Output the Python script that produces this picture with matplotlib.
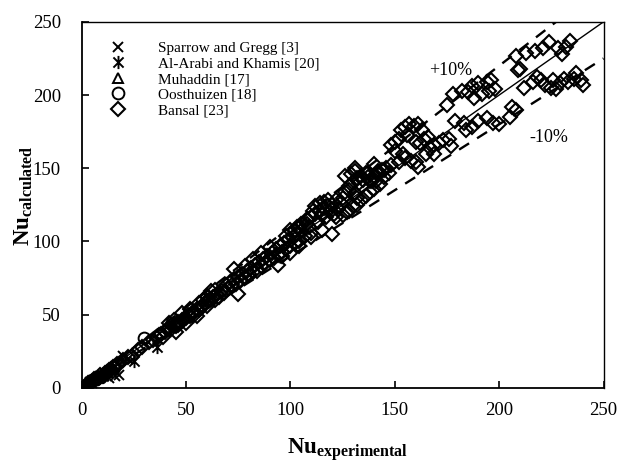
import numpy as np
import matplotlib
matplotlib.use("Agg")
import matplotlib.pyplot as plt
from matplotlib.path import Path

plt.rcParams['font.family'] = ['Liberation Serif', 'DejaVu Serif']
plt.rcParams['mathtext.fontset'] = 'custom'
plt.rcParams['mathtext.rm'] = 'Liberation Serif'
plt.rcParams['mathtext.bf'] = 'Liberation Serif:bold'

# Sparrow and Gregg [3]
sg_x = [1, 2, 4, 5, 7, 9, 11, 13, 15, 16, 18, 20, 22]
sg_y = [2, 1, 4, 3, 6, 8, 10, 7, 13, 8, 9, 22, 20]
# Al-Arabi and Khamis [20]
aa_x = [1, 3, 6, 8, 10, 12, 14, 25, 36]
aa_y = [1, 2, 5, 7, 8, 11, 12, 18, 28]
# Muhaddin [17]
mu_x = [2, 4, 6, 8, 10, 12]
mu_y = [3, 4, 6, 7, 9, 11]
# Oosthuizen [18]
oo_x = [2, 5, 7, 30]
oo_y = [2, 5, 6, 34]
# Bansal [23]
bn_x = [3, 5, 6, 8, 9, 10, 11, 12, 13, 14, 15, 16, 17, 18,
        20, 22, 24, 27, 29, 32, 34, 36, 37, 38, 39, 40, 41, 42, 43, 44, 45, 46,
        47, 48, 49, 50, 51, 52, 53, 54, 55, 56, 57, 58, 59, 60, 61, 62, 63, 64,
        65, 66, 67, 45, 50, 55,
        42, 44, 48, 52, 56, 60, 62, 64, 58, 46, 54, 60, 64,
        68, 69, 70, 71, 72, 73, 74, 75, 76, 77, 78, 79, 80, 81, 82, 83, 84, 85,
        86, 87, 88, 89, 90, 91, 92, 93, 94, 95, 96, 97, 98, 99, 100, 101, 102,
        103, 104, 105, 75, 94, 73,
        98, 100, 103, 105, 108, 112, 114, 116, 118, 122, 125, 90, 86, 82, 78,
        96, 100, 104, 110, 115, 125,
        106, 108, 110, 112, 114, 116, 118, 120, 111, 115, 109, 113, 117, 119,
        121, 123, 124, 107, 110, 120, 122, 104, 102,
        126, 128, 130, 132, 134, 136, 129, 131, 133, 135, 137, 138, 140, 142,
        144, 146, 148, 128, 130, 132, 127, 134, 136, 138, 140, 143, 141, 145,
        147, 126, 131, 137, 139, 131, 132, 128,
        150, 152, 153, 155, 157, 159, 161, 163, 156, 160, 162, 164, 166, 150,
        148, 152, 155, 158, 160, 161, 165, 167, 169, 171, 173, 176, 177, 169,
        154, 145, 142, 140,
        175, 178, 182, 185, 187, 190, 194, 195, 188, 192, 196, 198, 179, 183,
        187, 190, 194, 197, 184, 200, 205, 206, 208,
        208, 210, 213, 217, 221, 224, 228, 230, 232, 234, 209, 212, 216, 220,
        222, 225, 227, 229, 231, 233, 236, 237, 239, 240, 226, 218]
bn_y = [3, 4, 6, 7, 9, 8, 10, 11, 12, 13, 14, 14, 16, 16,
        19, 21, 22, 26, 28, 31, 33, 34, 36, 37, 35, 38, 40, 41, 40, 43, 42, 45,
        44, 46, 47, 48, 50, 49, 51, 52, 54, 53, 55, 56, 58, 59, 60, 61, 62, 63,
        64, 62, 66, 38, 44, 49,
        44, 46, 51, 54, 58, 63, 66, 67, 60, 43, 50, 56, 60,
        65, 70, 68, 72, 70, 74, 71, 76, 73, 78, 76, 80, 78, 82, 79, 84, 80, 86,
        83, 88, 85, 90, 87, 92, 89, 95, 91, 97, 93, 99, 95, 101, 97, 103, 99,
        105, 100, 107, 64, 84, 81,
        104, 108, 110, 112, 112, 124, 126, 127, 128, 128, 130, 96, 92, 88, 83,
        90, 92, 97, 103, 108, 118,
        112, 115, 117, 119, 121, 123, 124, 125, 121, 118, 110, 113, 117, 120,
        119, 122, 126, 104, 106, 105, 117, 110, 108,
        134, 138, 140, 143, 145, 147, 146, 148, 140, 142, 144, 141, 145, 147,
        149, 150, 152, 121, 124, 125, 120, 128, 131, 134, 136, 139, 141, 144,
        147, 145, 150, 147, 141, 133, 130, 135,
        168, 170, 176, 178, 180, 179, 180, 176, 173, 168, 167, 170, 171, 162,
        166, 154, 157, 155, 154, 151, 160, 164, 166, 167, 169, 170, 165, 160,
        160, 149, 148, 153,
        193, 201, 203, 202, 206, 208, 209, 203, 198, 201, 210, 204, 182, 181,
        178, 182, 184, 181, 176, 180, 185, 192, 190,
        227, 218, 229, 230, 232, 236, 232, 228, 233, 237, 217, 205, 209, 210,
        207, 205, 204, 208, 211, 209, 211, 215, 210, 207, 210, 212]

ref = [0, 250]

star = Path([(-1, -1), (1, 1), (-1, 1), (1, -1), (0, -1.3), (0, 1.3)],
            [Path.MOVETO, Path.LINETO, Path.MOVETO, Path.LINETO,
             Path.MOVETO, Path.LINETO])

fig = plt.figure(figsize=(6.19, 4.65), dpi=100)
ax = fig.add_axes([0.132, 0.166, 0.843, 0.787])

# reference lines
ax.plot(ref, ref, color='black', lw=1.0)
ax.plot(ref, [1.1 * v for v in ref], color='black', lw=1.7, ls=(0, (5, 4)))
ax.plot(ref, [0.9 * v for v in ref], color='black', lw=1.7, ls=(0, (5, 4)))

ax.plot(sg_x, sg_y, ls='none', marker='x', ms=7.5, mew=1.4, color='black',
        label='Sparrow and Gregg [3]')
ax.plot(aa_x, aa_y, ls='none', marker=star, ms=9.5, mew=1.4, color='black',
        label='Al-Arabi and Khamis [20]')
ax.plot(mu_x, mu_y, ls='none', marker='^', ms=7, mew=1.4, mfc='none',
        mec='black', label='Muhaddin [17]')
ax.plot(oo_x, oo_y, ls='none', marker='o', ms=8.5, mew=1.4, mfc='none',
        mec='black', label='Oosthuizen [18]')
ax.plot(bn_x, bn_y, ls='none', marker='D', ms=7.5, mew=1.5, mfc='none',
        mec='black', label='Bansal [23]')

ax.set_xlim(0, 250)
ax.set_ylim(0, 250)
ax.set_xticks(np.arange(0, 251, 50))
ax.set_yticks(np.arange(0, 251, 50))
ax.tick_params(direction='in', length=5, width=1.2, labelsize=13.5)
ax.tick_params(axis='x', pad=10)
ax.tick_params(axis='y', pad=15)
for s in ax.spines.values():
    s.set_linewidth(1.3)
ax.spines['top'].set_linewidth(1.0)
ax.spines['right'].set_linewidth(1.0)

ax.text(177, 217, '+10%', fontsize=13, ha='center', va='center')
ax.text(224, 171, '-10%', fontsize=13, ha='center', va='center')

ax.text(0.51, -0.17, r'$\mathbf{Nu}_{\mathbf{experimental}}$', fontsize=16.5,
        ha='center', va='center', transform=ax.transAxes)
ax.text(-0.111, 0.525, r'$\mathbf{Nu}_{\mathbf{calculated}}$', fontsize=16.5,
        ha='center', va='center', rotation=90, transform=ax.transAxes)

ax.legend(loc='upper left', bbox_to_anchor=(0.04, 0.947), frameon=False,
          fontsize=11, handlelength=2, handletextpad=1.6, labelspacing=0.12,
          borderpad=0, borderaxespad=0)

fig.savefig('out.png', dpi=100)
